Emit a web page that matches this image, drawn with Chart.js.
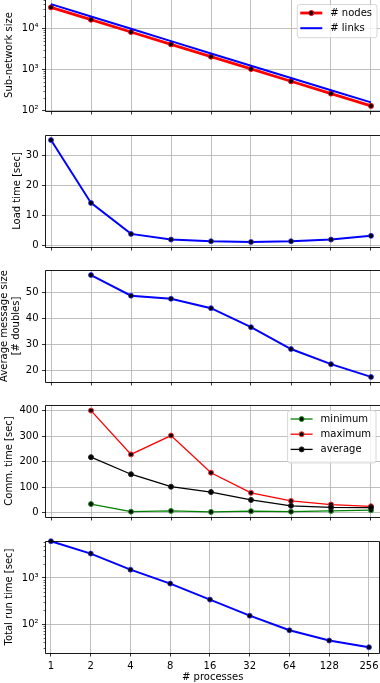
<!DOCTYPE html>
<html><head><meta charset="utf-8">
<script src="https://cdn.jsdelivr.net/npm/chart.js@4"></script>
<style>
html,body{margin:0;padding:0;background:#fff;width:380px;height:683px;overflow:hidden;position:relative}
canvas{position:absolute;left:0}
</style></head><body>
<canvas id="c1"></canvas><canvas id="c2"></canvas><canvas id="c3"></canvas><canvas id="c4"></canvas><canvas id="c5"></canvas>
<script>
const PROCESSES = [1, 2, 4, 8, 16, 32, 64, 128, 256];
const NODES = [32768, 16384, 8192, 4096, 2048, 1024, 512, 256, 128];
const LINKS = [39300, 19600, 9800, 4900, 2450, 1230, 615, 310, 156];
const LOAD_TIME = [35.3, 14.2, 3.8, 1.9, 1.35, 1.1, 1.35, 1.9, 3.15];
const MSG_SIZE = [null, 56.5, 48.6, 47.4, 43.8, 36.5, 28.1, 22.3, 17.4];
const COMM_MIN = [null, 34, 4, 7, 3, 6, 4, 7, 10];
const COMM_MAX = [null, 401, 229, 303, 157, 78, 46, 32, 25];
const COMM_AVG = [null, 218, 151, 102, 81, 50, 27, 21, 20];
const TOTAL_TIME = [6300, 3390, 1520, 755, 339, 152, 73, 43.7, 31.3];

const SIZE_TICKS = [100, 1000, 10000];
const LOAD_TICKS = [0, 10, 20, 30];
const MSG_TICKS = [20, 30, 40, 50];
const COMM_TICKS = [0, 100, 200, 300, 400];
const TOTAL_TICKS = [100, 1000];

const FONT = 'DejaVu Sans';
const XMIN = Math.pow(2, -0.1375), XMAX = Math.pow(2, 8.275);

function pts(arr) { return PROCESSES.map((p, i) => ({x: p, y: arr[i]})); }
const SUP = {'0':'⁰','1':'¹','2':'²','3':'³','4':'⁴','5':'⁵','6':'⁶','7':'⁷','8':'⁸','9':'⁹'};
function pow10Label(v) {
  const e = Math.round(Math.log10(v));
  return '10' + String(e).split('').map(c => SUP[c]).join('');
}

const framePlugin = {
  id: 'frame',
  afterDatasetsDraw(chart) {
    const a = chart.chartArea, ctx = chart.ctx;
    ctx.save();
    const ys = chart.scales.y;
    if (ys.type === 'logarithmic') {
      ctx.strokeStyle = '#000'; ctx.lineWidth = 0.6;
      const k0 = Math.floor(Math.log10(ys.min)), k1 = Math.ceil(Math.log10(ys.max));
      for (let k = k0; k <= k1; k++) {
        for (let m = 2; m <= 9; m++) {
          const v = m * Math.pow(10, k);
          if (v < ys.min || v > ys.max) continue;
          const py = Math.round(ys.getPixelForValue(v)) + 0.5;
          ctx.beginPath(); ctx.moveTo(a.left - 2, py); ctx.lineTo(a.left, py); ctx.stroke();
        }
      }
    }
    const L = Math.floor(a.left) + 0.5, R = Math.floor(a.right) + 0.5;
    const T = Math.floor(a.top) + 0.5, B = Math.floor(a.bottom) + 0.5;
    ctx.strokeStyle = '#000'; ctx.lineWidth = 0.9;
    ctx.beginPath();
    ctx.moveTo(L, T); ctx.lineTo(R, T); ctx.lineTo(R, B); ctx.lineTo(L, B); ctx.closePath();
    ctx.stroke();
    ctx.restore();
  }
};

const legendPlugin = {
  id: 'mplLegend',
  afterDraw(chart, args, opts) {
    if (!opts || !opts.show) return;
    const ctx = chart.ctx, a = chart.chartArea;
    const items = chart.data.datasets;
    ctx.save();
    ctx.font = '10px "' + FONT + '"';
    const tw = Math.max(...items.map(d => ctx.measureText(d.label).width));
    const rowH = 15.2;
    const w = 3 + 22 + 8 + tw + 5;
    const h = 8.5 * 2 + (items.length - 1) * rowH + opts.extra;
    const x = a.right - opts.right - w;
    const y = a.top + opts.top;
    const r = 2.5;
    ctx.beginPath();
    ctx.moveTo(x + r, y); ctx.lineTo(x + w - r, y); ctx.arcTo(x + w, y, x + w, y + r, r);
    ctx.lineTo(x + w, y + h - r); ctx.arcTo(x + w, y + h, x + w - r, y + h, r);
    ctx.lineTo(x + r, y + h); ctx.arcTo(x, y + h, x, y + h - r, r);
    ctx.lineTo(x, y + r); ctx.arcTo(x, y, x + r, y, r);
    ctx.closePath();
    ctx.fillStyle = 'rgba(255,255,255,0.8)'; ctx.fill();
    ctx.strokeStyle = '#cccccc'; ctx.lineWidth = 0.8; ctx.stroke();
    items.forEach((d, i) => {
      const cy = y + 8.5 + i * rowH;
      const hx0 = x + 3, hx1 = x + 25;
      ctx.strokeStyle = d.borderColor; ctx.lineWidth = d.borderWidth;
      ctx.beginPath(); ctx.moveTo(hx0, cy); ctx.lineTo(hx1, cy); ctx.stroke();
      if (d.pointRadius > 0) {
        ctx.beginPath(); ctx.arc((hx0 + hx1) / 2, cy, d.pointRadius, 0, Math.PI * 2);
        ctx.fillStyle = d.pointBackgroundColor; ctx.fill();
        ctx.strokeStyle = d.pointBorderColor; ctx.lineWidth = d.pointBorderWidth; ctx.stroke();
      }
      ctx.fillStyle = '#000'; ctx.textBaseline = 'middle'; ctx.textAlign = 'left';
      ctx.fillText(d.label, hx1 + 8, cy + 0.5);
    });
    ctx.restore();
  }
};

function ds(label, arr, color, lw, edge, radius, order) {
  return {
    label, data: pts(arr), borderColor: color, borderWidth: lw,
    pointRadius: radius, pointBackgroundColor: '#000', pointBorderColor: edge,
    pointBorderWidth: 1, tension: 0, clip: false, order: order, spanGaps: false
  };
}

function panel(id, areaTop, areaBottom, cfg) {
  const PADT = 10;
  const xh = cfg.bottomAxis ? (683 - areaBottom) : 10;
  const cv = document.getElementById(id);
  cv.width = 382;
  cv.height = (areaBottom - areaTop) + PADT + xh;
  cv.style.top = (areaTop - PADT) + 'px';
  const font = {family: FONT, size: 10};
  const grid = {color: '#b0b0b0', lineWidth: 0.8, tickColor: '#000', tickWidth: 0.8, tickLength: 3.5};
  new Chart(cv, {
    type: 'line',
    data: {datasets: cfg.datasets},
    options: {
      responsive: false, animation: false, devicePixelRatio: 1, events: [],
      layout: {autoPadding: false, padding: {top: PADT, left: 0, right: 0, bottom: 0}},
      plugins: {legend: {display: false}, tooltip: {enabled: false},
        mplLegend: cfg.legend || {show: false}},
      scales: {
        x: {
          type: 'logarithmic', min: XMIN, max: XMAX,
          afterBuildTicks: s => { s.ticks = PROCESSES.map(v => ({value: v})); },
          afterFit: s => { s.height = xh; },
          ticks: {display: !!cfg.bottomAxis, autoSkip: false, maxRotation: 0, padding: 3.5,
            font, color: '#000', callback: v => String(v)},
          grid, border: {display: false},
          title: cfg.bottomAxis ? {display: true, text: '# processes', font, color: '#000',
            padding: {top: 0, bottom: 0}} : {display: false}
        },
        y: {
          type: cfg.ytype, min: cfg.ymin, max: cfg.ymax,
          afterBuildTicks: s => { s.ticks = cfg.yticks.map(v => ({value: v})); },
          afterFit: s => { s.width = 45.5; },
          ticks: {font, color: '#000', padding: 3.5, autoSkip: false,
            callback: v => cfg.ytype === 'logarithmic' ? pow10Label(v) : String(v)},
          grid, border: {display: false},
          title: {display: true, text: cfg.title, color: '#000',
            font: {family: FONT, size: 10, lineHeight: 1.15},
            padding: {top: cfg.titleCenter - 5.75, bottom: 0}}
        }
      }
    },
    plugins: [framePlugin, legendPlugin]
  });
}

panel('c1', -1, 111, {
  ytype: 'logarithmic', ymin: Math.pow(10, 1.983), ymax: Math.pow(10, 4.72), yticks: SIZE_TICKS,
  title: 'Sub-network size', titleCenter: 9,
  datasets: [
    ds('# nodes', NODES, '#ff0000', 2.8, '#ff0000', 2.5, 1),
    ds('# links', LINKS, '#0000ff', 2, '#0000ff', 0, 0)
  ],
  legend: {show: true, right: 5, top: 5.5, extra: 1}
});
panel('c2', 135, 247, {
  ytype: 'linear', ymin: -0.6, ymax: 37.0, yticks: LOAD_TICKS,
  title: 'Load time [sec]', titleCenter: 17,
  datasets: [ds('load', LOAD_TIME, '#0000ff', 2, 'rgba(40,40,255,0.75)', 2.5, 0)]
});
panel('c3', 270, 382, {
  ytype: 'linear', ymin: 15.45, ymax: 58.45, yticks: MSG_TICKS,
  title: ['Average message size', '[# doubles]'], titleCenter: 4.5,
  datasets: [ds('msg', MSG_SIZE, '#0000ff', 2, 'rgba(40,40,255,0.75)', 2.5, 0)]
});
panel('c4', 405, 517, {
  ytype: 'linear', ymin: -17, ymax: 423, yticks: COMM_TICKS,
  title: 'Comm. time [sec]', titleCenter: 9,
  datasets: [
    ds('minimum', COMM_MIN, '#008000', 1.3, '#1a9a1a', 2.5, 2),
    ds('maximum', COMM_MAX, '#ff0000', 1.3, '#ff2a2a', 2.5, 1),
    ds('average', COMM_AVG, '#000000', 1.3, '#222222', 2.5, 0)
  ],
  legend: {show: true, right: 6, top: 5.5, extra: 5}
});
panel('c5', 541, 653, {
  ytype: 'logarithmic', ymin: Math.pow(10, 1.37), ymax: Math.pow(10, 3.804), yticks: TOTAL_TICKS,
  title: 'Total run time [sec]', titleCenter: 9.5, bottomAxis: true,
  datasets: [ds('total', TOTAL_TIME, '#0000ff', 2, 'rgba(40,40,255,0.75)', 2.5, 0)]
});
</script>
</body></html>
